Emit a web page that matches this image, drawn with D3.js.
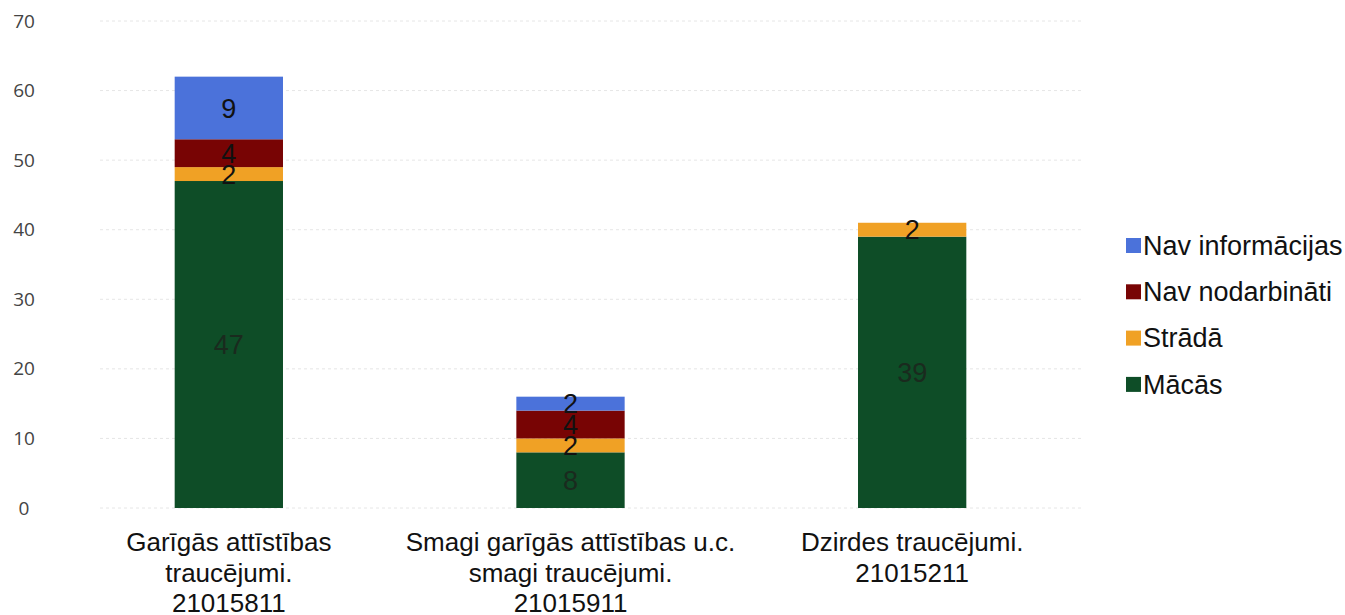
<!DOCTYPE html>
<html>
<head>
<meta charset="utf-8">
<script src="https://cdn.jsdelivr.net/npm/d3@7"></script>
<style>
  body { margin: 0; background: #fff; }
  svg { display: block; }
</style>
</head>
<body>
<svg id="chart" width="1345" height="615"></svg>
<script>
const categories = [
  ["Garīgās attīstības", "traucējumi.", "21015811"],
  ["Smagi garīgās attīstības u.c.", "smagi traucējumi.", "21015911"],
  ["Dzirdes traucējumi.", "21015211"]
];
const seriesNames = ["Mācās", "Strādā", "Nav nodarbināti", "Nav informācijas"];
const macas = [47, 8, 39];
const strada = [2, 2, 2];
const navNodarbinati = [4, 4, 0];
const navInformacijas = [9, 2, 0];
const yTicks = [0, 10, 20, 30, 40, 50, 60, 70];
const colors = ["#0e4d27", "#f0a125", "#780404", "#4b72da"];

const svg = d3.select("#chart");
const width = 1345, height = 615;
const margin = { top: 21, right: 262, bottom: 107, left: 58 };

const table = categories.map((c, i) => ({
  idx: i,
  "Mācās": macas[i],
  "Strādā": strada[i],
  "Nav nodarbināti": navNodarbinati[i],
  "Nav informācijas": navInformacijas[i]
}));
const stacked = d3.stack().keys(seriesNames)(table);

const x = d3.scaleBand()
  .domain(categories.map((c, i) => i))
  .range([margin.left, width - margin.right])
  .paddingInner(0.683)
  .paddingOuter(0.3415);
const y = d3.scaleLinear()
  .domain([0, 70])
  .range([height - margin.bottom, margin.top]);

// gridlines
svg.append("g")
  .selectAll("line")
  .data(yTicks)
  .join("line")
  .attr("x1", 100)
  .attr("x2", width - margin.right)
  .attr("y1", d => y(d))
  .attr("y2", d => y(d))
  .attr("stroke", "#e6e6e6")
  .attr("stroke-width", 1)
  .attr("stroke-dasharray", "3,3");

// y axis labels
const yAxis = svg.append("g")
  .attr("transform", `translate(24,0)`)
  .call(d3.axisLeft(y).tickValues(yTicks).tickSize(0).tickPadding(0));
yAxis.select(".domain").remove();
yAxis.selectAll("text")
  .attr("font-family", "Open Sans, sans-serif")
  .attr("font-size", 19)
  .attr("fill", "#444")
  .attr("text-anchor", "middle")
  .attr("x", 0);

// bars
const layers = svg.append("g")
  .selectAll("g")
  .data(stacked)
  .join("g")
  .attr("fill", (d, i) => colors[i]);
layers.selectAll("rect")
  .data(d => d.filter(s => s[1] - s[0] > 0))
  .join("rect")
  .attr("x", d => x(d.data.idx))
  .attr("width", x.bandwidth())
  .attr("y", d => y(d[1]))
  .attr("height", d => y(d[0]) - y(d[1]));

// data labels
const labels = svg.append("g");
stacked.forEach(layer => {
  layer.forEach(s => {
    const v = s[1] - s[0];
    if (v <= 0) return;
    labels.append("text")
      .attr("x", x(s.data.idx) + x.bandwidth() / 2)
      .attr("y", y((s[0] + s[1]) / 2))
      .attr("dy", "0.36em")
      .attr("text-anchor", "middle")
      .attr("font-family", "Liberation Sans, Arial, sans-serif")
      .attr("font-size", 27)
      .attr("fill", layer.key === "Mācās" ? "#1a2a1e" : "#111")
      .text(v);
  });
});

// x labels
const xl = svg.append("g");
categories.forEach((lines, i) => {
  const t = xl.append("text")
    .attr("x", x(i) + x.bandwidth() / 2)
    .attr("y", 551)
    .attr("text-anchor", "middle")
    .attr("font-family", "Liberation Sans, Arial, sans-serif")
    .attr("font-size", 26)
    .attr("fill", "#111");
  lines.forEach((l, j) => {
    t.append("tspan")
      .attr("x", x(i) + x.bandwidth() / 2)
      .attr("dy", j === 0 ? 0 : 30.5)
      .text(l);
  });
});

// legend
const legendItems = seriesNames.slice().reverse();
const legendColors = colors.slice().reverse();
const legend = svg.append("g").attr("transform", "translate(1126,245)");
legendItems.forEach((name, i) => {
  const g = legend.append("g").attr("transform", `translate(0,${i * 46.3})`);
  g.append("rect")
    .attr("x", 0).attr("y", -7)
    .attr("width", 15).attr("height", 15)
    .attr("fill", legendColors[i]);
  g.append("text")
    .attr("x", 17).attr("y", 0)
    .attr("dy", "0.36em")
    .attr("font-family", "Liberation Sans, Arial, sans-serif")
    .attr("font-size", 27)
    .attr("fill", "#111")
    .text(name);
});
</script>
</body>
</html>
